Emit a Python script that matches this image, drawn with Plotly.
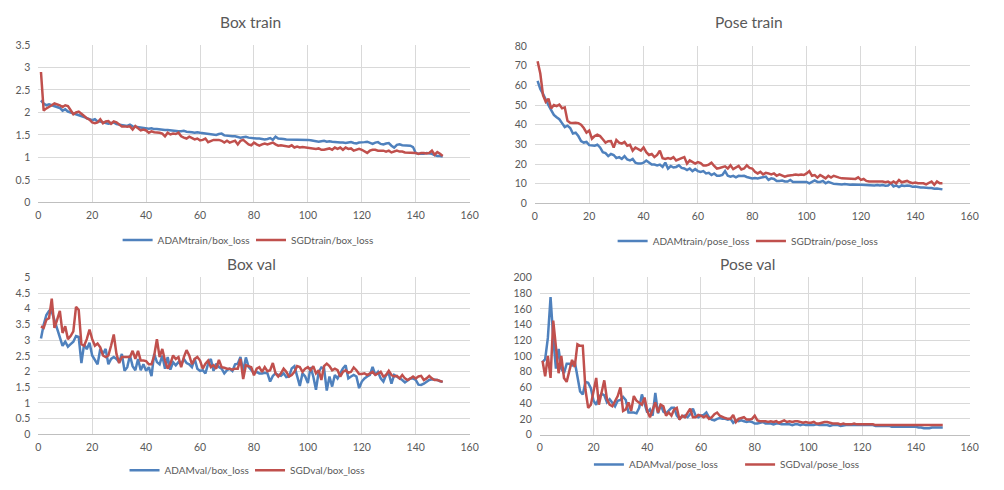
import plotly.graph_objects as go

epochs = list(range(1, 151))

adam_train_box = [2.27, 2.20, 2.16, 2.18, 2.16, 2.14, 2.12, 2.10, 2.04, 2.07,
    2.02, 2.00, 1.99, 1.97, 1.95, 1.93, 1.90, 1.87, 1.85, 1.83,
    1.85, 1.80, 1.80, 1.78, 1.77, 1.75, 1.76, 1.78, 1.74, 1.73,
    1.71, 1.70, 1.70, 1.73, 1.69, 1.68, 1.67, 1.67, 1.66, 1.65,
    1.64, 1.65, 1.63, 1.63, 1.62, 1.62, 1.61, 1.61, 1.60, 1.60,
    1.59, 1.58, 1.58, 1.59, 1.57, 1.57, 1.56, 1.55, 1.56, 1.55,
    1.54, 1.53, 1.53, 1.52, 1.51, 1.50, 1.52, 1.53, 1.49, 1.48,
    1.48, 1.47, 1.47, 1.46, 1.44, 1.45, 1.46, 1.44, 1.43, 1.42,
    1.42, 1.42, 1.41, 1.40, 1.41, 1.43, 1.39, 1.46, 1.42, 1.42,
    1.41, 1.40, 1.40, 1.39, 1.40, 1.39, 1.39, 1.40, 1.39, 1.39,
    1.38, 1.37, 1.37, 1.35, 1.36, 1.37, 1.35, 1.36, 1.35, 1.34,
    1.34, 1.33, 1.33, 1.32, 1.33, 1.34, 1.32, 1.31, 1.33, 1.33,
    1.34, 1.35, 1.32, 1.30, 1.33, 1.34, 1.30, 1.29, 1.31, 1.32,
    1.26, 1.22, 1.28, 1.29, 1.27, 1.27, 1.26, 1.26, 1.23, 1.10,
    1.08, 1.08, 1.08, 1.10, 1.09, 1.08, 1.05, 1.03, 1.03, 1.02]

sgd_train_box = [2.90, 2.04, 2.09, 2.12, 2.16, 2.20, 2.18, 2.16, 2.12, 2.16,
    2.14, 2.05, 1.96, 2.00, 2.02, 1.97, 1.91, 1.87, 1.84, 1.78,
    1.76, 1.78, 1.85, 1.76, 1.80, 1.81, 1.75, 1.80, 1.78, 1.73,
    1.69, 1.69, 1.68, 1.69, 1.62, 1.70, 1.65, 1.60, 1.62, 1.60,
    1.55, 1.58, 1.56, 1.56, 1.55, 1.53, 1.47, 1.55, 1.51, 1.53,
    1.52, 1.55, 1.47, 1.44, 1.42, 1.46, 1.42, 1.40, 1.42, 1.38,
    1.39, 1.42, 1.34, 1.37, 1.39, 1.39, 1.39, 1.37, 1.33, 1.37,
    1.33, 1.35, 1.37, 1.29, 1.37, 1.39, 1.34, 1.29, 1.27, 1.33,
    1.29, 1.26, 1.29, 1.31, 1.29, 1.31, 1.33, 1.29, 1.26, 1.27,
    1.26, 1.26, 1.24, 1.27, 1.22, 1.24, 1.22, 1.23, 1.22, 1.22,
    1.20, 1.19, 1.19, 1.20, 1.17, 1.17, 1.19, 1.20, 1.17, 1.22,
    1.19, 1.22, 1.17, 1.22, 1.19, 1.20, 1.15, 1.17, 1.19, 1.17,
    1.13, 1.10, 1.15, 1.17, 1.17, 1.15, 1.15, 1.15, 1.13, 1.15,
    1.11, 1.13, 1.15, 1.13, 1.13, 1.11, 1.11, 1.11, 1.10, 1.10,
    1.08, 1.10, 1.10, 1.09, 1.10, 1.15, 1.06, 1.12, 1.08, 1.03]

adam_train_pose = [62.3, 58.2, 55.7, 52.4, 49.9, 47.4, 45.0, 43.8, 42.8, 40.8,
    38.8, 39.5, 38.3, 35.5, 35.9, 34.2, 31.7, 30.9, 31.2, 29.6,
    29.3, 29.3, 29.8, 28.4, 26.0, 25.5, 24.0, 25.1, 24.6, 23.0,
    23.5, 22.6, 24.0, 22.3, 21.8, 22.6, 20.7, 20.2, 20.2, 20.7,
    21.8, 20.5, 19.7, 19.7, 19.3, 19.7, 18.5, 20.7, 17.7, 19.0,
    18.2, 18.5, 19.3, 18.0, 17.7, 16.9, 17.7, 16.4, 17.4, 16.4,
    16.0, 16.4, 15.2, 15.5, 14.4, 15.2, 14.0, 14.0, 14.4, 16.4,
    14.0, 13.6, 14.0, 13.2, 14.0, 13.9, 14.0, 13.4, 13.2, 12.7,
    12.9, 12.7, 13.0, 13.2, 13.6, 11.9, 12.7, 12.4, 11.4, 11.4,
    11.6, 11.1, 11.1, 11.9, 10.9, 10.9, 10.9, 10.9, 10.6, 10.9,
    10.2, 10.9, 11.7, 10.9, 10.9, 11.4, 10.2, 10.9, 10.2, 9.9,
    9.8, 9.6, 9.6, 9.8, 9.6, 9.4, 9.6, 9.4, 9.4, 9.4,
    9.3, 9.4, 9.1, 9.3, 9.1, 9.3, 9.1, 9.3, 9.0, 9.1,
    10.2, 8.6, 9.1, 8.3, 9.1, 8.8, 9.1, 8.9, 8.4, 8.6,
    8.3, 8.1, 8.1, 7.8, 7.8, 7.8, 7.4, 7.6, 7.3, 7.1]

sgd_train_pose = [72.2, 66.0, 55.0, 51.6, 53.2, 48.3, 50.0, 49.4, 50.2, 48.3,
    48.8, 42.0, 41.0, 40.8, 41.0, 40.8, 40.0, 38.3, 35.9, 37.0,
    32.9, 34.2, 34.9, 34.2, 32.6, 30.9, 31.6, 31.7, 28.4, 32.2,
    30.9, 30.4, 31.2, 29.3, 29.8, 26.8, 28.4, 27.6, 26.8, 28.4,
    26.0, 24.6, 25.1, 23.5, 24.6, 26.8, 23.0, 22.6, 23.0, 22.6,
    23.5, 21.8, 22.6, 23.0, 23.5, 20.2, 21.8, 21.0, 20.2, 21.0,
    20.5, 19.3, 19.3, 19.7, 20.7, 19.0, 17.7, 18.0, 18.4, 18.8,
    17.7, 19.3, 17.4, 18.0, 19.0, 17.2, 17.7, 19.3, 18.0, 17.7,
    16.0, 15.2, 16.0, 14.7, 15.5, 15.2, 14.7, 15.2, 14.0, 14.7,
    14.0, 13.6, 14.0, 14.4, 14.4, 14.7, 14.4, 14.7, 14.4, 15.2,
    16.4, 14.0, 14.4, 13.1, 14.4, 13.6, 12.7, 14.0, 13.1, 14.0,
    13.4, 13.1, 12.7, 12.7, 12.7, 12.4, 12.7, 12.4, 13.2, 11.9,
    12.4, 11.4, 11.1, 11.1, 11.4, 11.1, 11.4, 11.1, 10.7, 11.1,
    10.2, 11.1, 10.2, 11.9, 10.7, 11.1, 11.4, 10.7, 10.2, 10.6,
    10.2, 10.2, 10.2, 9.6, 10.2, 11.1, 9.4, 11.1, 10.2, 10.2]

adam_val_box = [3.05, 3.49, 3.80, 3.93, 3.91, 3.65, 3.41, 3.08, 2.82, 2.95,
    2.79, 2.87, 2.95, 3.13, 3.10, 2.27, 2.87, 2.71, 2.92, 2.51,
    2.35, 2.23, 2.72, 2.56, 2.72, 2.23, 2.40, 2.46, 2.40, 2.30,
    2.56, 2.02, 2.14, 2.51, 2.17, 2.04, 2.40, 2.04, 2.23, 2.02,
    2.14, 1.85, 2.56, 2.30, 2.23, 2.51, 2.09, 2.46, 2.06, 2.30,
    2.20, 2.30, 2.23, 2.40, 2.27, 2.23, 2.14, 2.40, 2.09, 2.02,
    2.04, 1.94, 2.25, 2.40, 2.02, 2.25, 2.14, 2.09, 1.94, 2.04,
    2.09, 2.02, 2.23, 2.25, 2.46, 2.00, 2.45, 2.15, 2.05, 1.94,
    1.99, 1.94, 1.94, 1.96, 1.94, 1.68, 1.86, 1.94, 1.89, 1.86,
    1.94, 1.82, 1.84, 2.10, 2.17, 1.86, 1.54, 1.94, 1.84, 1.63,
    2.14, 1.84, 1.42, 1.99, 2.13, 2.10, 1.39, 1.84, 1.52, 1.89,
    1.78, 1.94, 2.10, 2.20, 1.78, 1.84, 1.89, 1.84, 1.47, 1.68,
    1.78, 1.84, 1.89, 2.15, 1.89, 1.99, 1.78, 1.68, 1.89, 1.94,
    1.61, 1.89, 1.84, 1.78, 1.73, 1.65, 1.71, 1.78, 1.78, 1.73,
    1.58, 1.57, 1.61, 1.68, 1.73, 1.75, 1.75, 1.73, 1.69, 1.67]

sgd_val_box = [3.44, 3.39, 3.65, 3.70, 4.32, 3.39, 3.65, 3.93, 3.23, 3.44,
    3.03, 3.13, 3.28, 4.06, 3.96, 2.87, 2.82, 3.03, 3.34, 3.03,
    2.82, 2.89, 2.77, 2.51, 2.46, 2.51, 2.82, 3.18, 2.56, 2.27,
    2.46, 2.46, 2.46, 2.46, 2.66, 2.40, 2.66, 2.35, 2.35, 2.33,
    2.23, 2.23, 2.51, 3.03, 2.46, 2.72, 2.35, 2.09, 2.25, 2.51,
    2.40, 2.46, 2.14, 2.46, 2.68, 2.51, 2.23, 2.40, 2.46, 2.35,
    2.09, 2.25, 2.35, 2.14, 2.20, 2.09, 2.37, 2.14, 2.12, 2.09,
    2.09, 2.06, 2.09, 2.09, 2.40, 1.76, 2.20, 2.17, 2.14, 1.88,
    2.09, 2.14, 1.99, 2.14, 2.01, 2.04, 2.27, 1.94, 1.84, 1.94,
    2.09, 1.99, 1.84, 1.89, 1.99, 2.17, 2.14, 1.99, 2.09, 2.14,
    2.04, 2.17, 1.94, 2.04, 1.73, 2.17, 2.25, 2.17, 2.04, 2.09,
    2.04, 1.84, 1.99, 2.04, 1.96, 1.99, 2.13, 2.04, 1.92, 1.92,
    1.94, 1.89, 1.94, 1.99, 1.89, 1.94, 1.99, 1.84, 1.89, 2.02,
    1.89, 1.84, 1.86, 1.78, 1.89, 1.78, 1.73, 1.78, 1.84, 1.78,
    1.84, 1.86, 1.73, 1.78, 1.86, 1.78, 1.73, 1.73, 1.71, 1.67]

adam_val_pose = [92, 96, 123, 175, 123, 84, 109, 84, 78, 90,
    90, 88, 93, 72, 55, 51, 67, 66, 59, 43,
    38, 47, 52, 50, 41, 45, 41, 36, 43, 44,
    48, 44, 28, 28, 28, 27, 34, 51, 38, 28,
    32, 24, 53, 27, 38, 29, 27, 30, 34, 34,
    24, 20, 23, 24, 22, 26, 33, 24, 22, 24,
    25, 28, 22, 19, 18, 20, 21, 20, 20, 19,
    20, 15, 18, 17, 18, 17, 16, 17, 16, 14,
    14, 15, 16, 14, 14, 14, 13, 14, 14, 13,
    13, 13, 13, 12, 13, 13, 12, 13, 12, 12,
    12, 12, 13, 12, 12, 12, 12, 11, 12, 12,
    12, 11, 12, 12, 12, 12, 12, 12, 12, 12,
    12, 12, 12, 12, 11, 11, 11, 11, 11, 11,
    10, 10, 10, 10, 10, 10, 10, 10, 10, 10,
    9, 9, 8, 8, 8, 9, 9, 9, 9, 9]

sgd_val_pose = [94, 74, 100, 72, 145, 111, 78, 100, 72, 67,
    82, 95, 86, 115, 113, 113, 57, 34, 38, 55,
    72, 38, 55, 69, 45, 38, 36, 43, 49, 60,
    30, 32, 41, 30, 49, 43, 40, 38, 47, 30,
    22, 32, 41, 28, 38, 36, 24, 28, 24, 32,
    34, 19, 24, 22, 28, 33, 22, 22, 25, 24,
    22, 24, 20, 22, 26, 28, 24, 22, 21, 20,
    20, 25, 16, 20, 21, 22, 19, 19, 20, 24,
    18, 17, 17, 17, 16, 17, 16, 17, 15, 17,
    18, 16, 17, 16, 17, 17, 16, 15, 16, 15,
    15, 16, 14, 14, 15, 16, 16, 15, 14, 14,
    14, 13, 14, 13, 13, 13, 14, 13, 13, 13,
    13, 13, 13, 13, 12, 12, 12, 12, 12, 12,
    12, 12, 12, 12, 12, 12, 12, 12, 12, 12,
    12, 12, 12, 12, 12, 12, 12, 12, 12, 12]

titles = ["Box train", "Pose train", "Box val", "Pose val"]
names = [("ADAMtrain/box_loss", "SGDtrain/box_loss"),
         ("ADAMtrain/pose_loss", "SGDtrain/pose_loss"),
         ("ADAMval/box_loss", "SGDval/box_loss"),
         ("ADAMval/pose_loss", "SGDval/pose_loss")]
series = [(adam_train_box, sgd_train_box), (adam_train_pose, sgd_train_pose),
          (adam_val_box, sgd_val_box), (adam_val_pose, sgd_val_pose)]
y_ranges = [(0, 3.5, 0.5), (0, 80, 10), (0, 5, 0.5), (0, 200, 20)]

W, H = 1004, 490
BLUE = "#4F81BD"
RED = "#C0504D"
FONT = "Lato, 'Open Sans', sans-serif"
TXT = "#595959"

# pixel geometry (left, right, top, bottom)
boxes = [(35.7, 472.3, 40.0, 201.3),
         (538.3, 978.3, 41.0, 202.3),
         (35.7, 472.3, 278.2, 439.0),
         (543.3, 978.3, 278.2, 439.3)]
title_pos = [(250, 16), (755, 16), (251, 264), (754, 264)]
# legend entries: text-start x, centre y (pixels)
legend_pos = [((156, 240), (291, 240)),
              ((657, 241), (797, 241)),
              ((163, 476), (290, 476)),
              ((633, 470), (786, 470))]

fig = go.Figure()
layout = dict(width=W, height=H, margin=dict(l=0, r=0, t=0, b=0),
              paper_bgcolor="white", plot_bgcolor="white",
              font=dict(family=FONT, color=TXT, size=11),
              annotations=[], showlegend=True)

k = 0
for i in range(4):
    sfx = "" if i == 0 else str(i + 1)
    xa, ya = "x" + sfx, "y" + sfx
    for j, (vals, nm, col) in enumerate(zip(series[i], names[i], (BLUE, RED))):
        k += 1
        lg = "legend" if k == 1 else "legend" + str(k)
        fig.add_trace(go.Scatter(x=epochs, y=vals, mode="lines", name=nm,
                                 line=dict(color=col, width=2.5),
                                 xaxis=xa, yaxis=ya, legend=lg))
        tx0, ty0 = legend_pos[i][j]
        layout[lg] = dict(orientation="h", x=(tx0 - 40) / W, y=1 - ty0 / H,
                          xanchor="left", yanchor="middle",
                          bgcolor="rgba(0,0,0,0)", borderwidth=0,
                          font=dict(size=10, color=TXT, family=FONT),
                          itemwidth=30)
    l, r, t, b = boxes[i]
    y0, y1, dy = y_ranges[i]
    layout["xaxis" + sfx] = dict(domain=[l / W, r / W], anchor=ya, range=[0, 160],
                                  tick0=0, dtick=20, showgrid=True, gridcolor="#d9d9d9",
                                  gridwidth=1, zeroline=False, showline=True,
                                  linecolor="#bfbfbf", linewidth=1, ticks="",
                                  ticklabelstandoff=3,
                                  tickfont=dict(size=10.5, color=TXT, family=FONT))
    layout["yaxis" + sfx] = dict(domain=[1 - b / H, 1 - t / H], anchor=xa,
                                  range=[y0, y1], tick0=0, dtick=dy, showgrid=True,
                                  gridcolor="#d9d9d9", gridwidth=1, zeroline=False,
                                  showline=False, ticks="", ticklabelstandoff=7,
                                  tickfont=dict(size=10.5, color=TXT, family=FONT))
    tx, ty = title_pos[i]
    layout["annotations"].append(dict(text=titles[i], x=tx / W, y=1 - ty / H,
                                      xref="paper", yref="paper", showarrow=False,
                                      xanchor="center", yanchor="middle",
                                      font=dict(size=15.5, color=TXT, family=FONT)))

fig.update_layout(**layout)
fig.write_html("out.html")
